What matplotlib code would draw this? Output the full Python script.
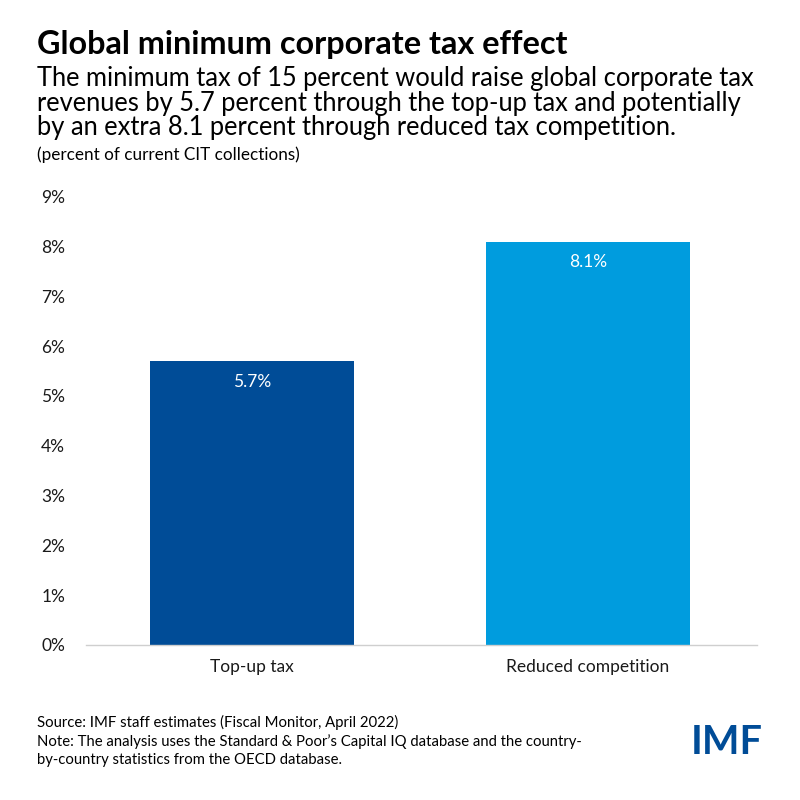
import matplotlib
matplotlib.use("Agg")
import matplotlib.pyplot as plt

categories = ["Top-up tax", "Reduced competition"]
values = [5.7, 8.1]
bar_colors = ["#004C97", "#009CDE"]
yticks = [0, 1, 2, 3, 4, 5, 6, 7, 8, 9]

title = "Global minimum corporate tax effect"
subtitle = ("The minimum tax of 15 percent would raise global corporate tax\n"
            "revenues by 5.7 percent through the top-up tax and potentially\n"
            "by an extra 8.1 percent through reduced tax competition.")
unit_note = "(percent of current CIT collections)"
footer = ("Source: IMF staff estimates (Fiscal Monitor, April 2022)\n"
          "Note: The analysis uses the Standard & Poor\u2019s Capital IQ database and the country-\n"
          "by-country statistics from the OECD database.")

plt.rcParams['font.family'] = ['Lato', 'DejaVu Sans']

fig = plt.figure(figsize=(8, 8), dpi=100)
ax = fig.add_axes([0.1075, 0.194, 0.8385, 0.56])

x = range(len(categories))
bars = ax.bar(x, values, width=0.607, color=bar_colors)
for b, v in zip(bars, values):
    ax.annotate(f"{v}%", (b.get_x() + b.get_width() / 2, v),
                xytext=(0, -15), textcoords="offset points",
                ha="center", va="center", color="white", fontsize=12.5)

ax.set_xlim(-0.494, 1.503)
ax.set_ylim(0, 9)
ax.set_yticks(yticks)
ax.set_yticklabels([f"{t}%" for t in yticks])
ax.set_xticks(list(x))
ax.set_xticklabels(categories)
ax.tick_params(axis="both", length=0, labelsize=12.5, colors="#1a1a1a")
ax.tick_params(axis="y", pad=15)
ax.tick_params(axis="x", pad=10)
for s in ["top", "right", "left"]:
    ax.spines[s].set_visible(False)
ax.spines["bottom"].set_color("#cfcfcf")
ax.spines["bottom"].set_linewidth(1)

fig.text(0.046, 0.944, title, fontsize=23.3, fontweight="bold", va="center", ha="left")
fig.text(0.046, 0.871, subtitle, fontsize=18.4, va="center", ha="left", linespacing=0.98)
fig.text(0.046, 0.806, unit_note, fontsize=12.3, va="center", ha="left")
fig.text(0.046, 0.074, footer, fontsize=10.7, va="center", ha="left", linespacing=1.38)
fig.text(0.953, 0.072, "IMF", fontsize=28.5, fontweight="bold", color="#004C97",
         va="center", ha="right")

fig.savefig("out.png", dpi=100, facecolor="white")
